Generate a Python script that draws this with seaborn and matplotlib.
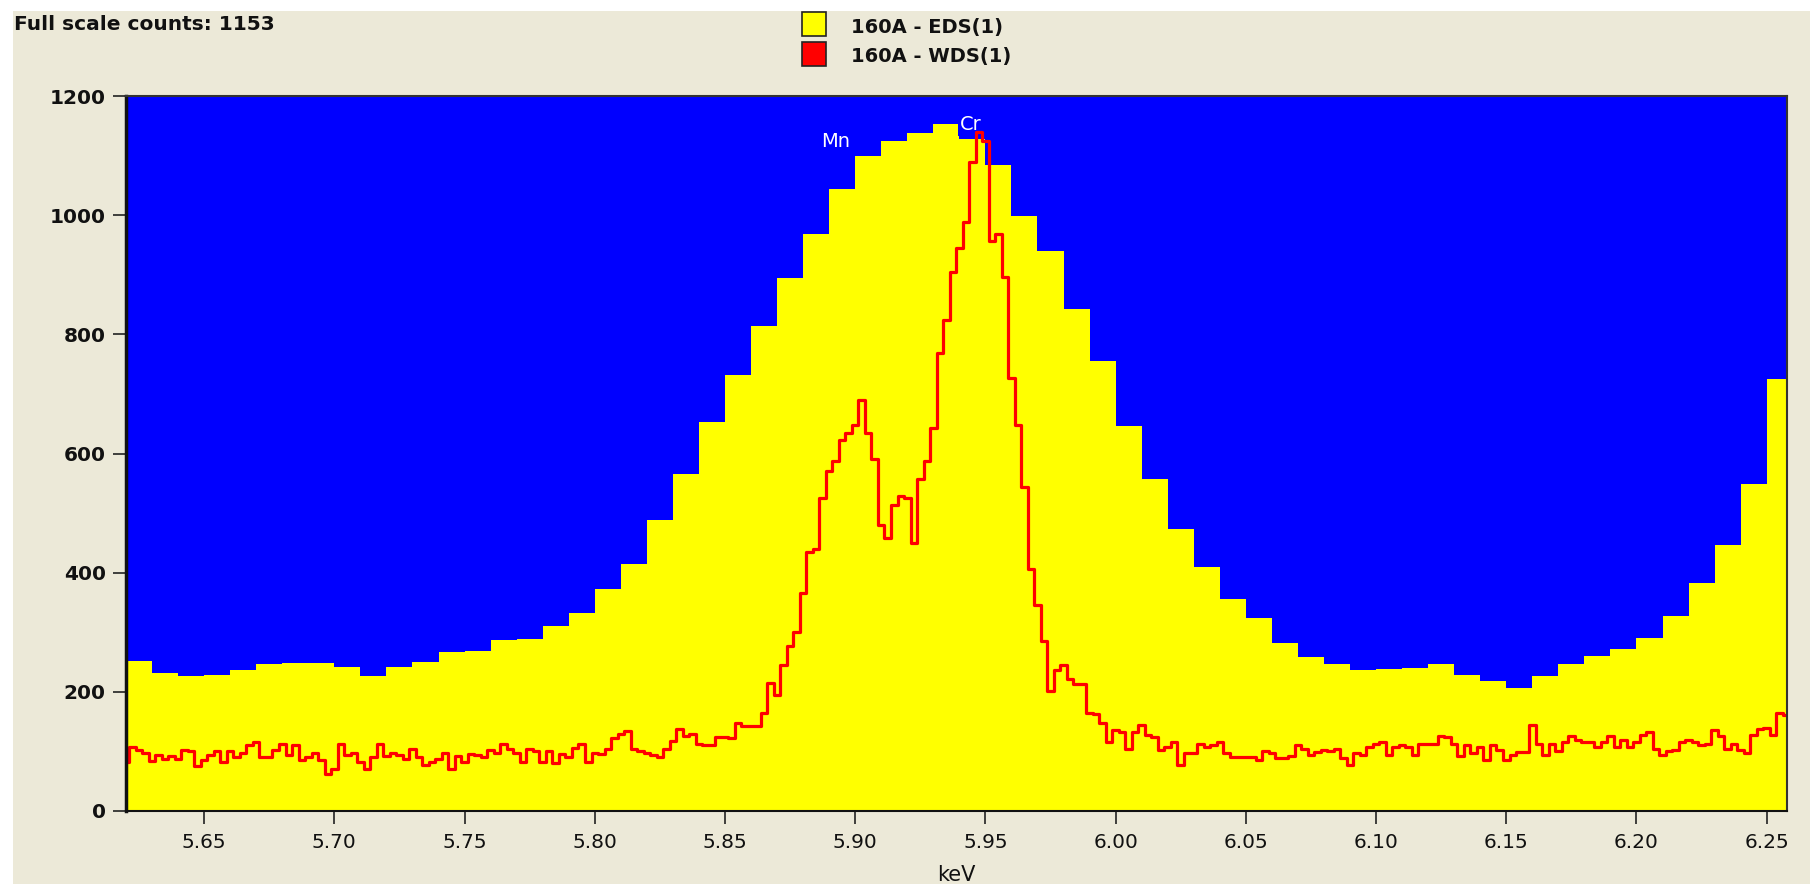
import numpy as np
import pandas as pd
import matplotlib
matplotlib.use("Agg")
import matplotlib.pyplot as plt
import seaborn as sns
from matplotlib.patches import Rectangle

# ---------------- data ----------------
eds_start = 5.62          # keV, left edge of first EDS channel
eds_bin_width = 0.01      # keV
eds_counts = [252, 231, 226, 229, 237, 246, 249, 248, 241, 226,
              241, 250, 267, 268, 287, 289, 310, 332, 372, 414,
              489, 565, 653, 731, 814, 895, 969, 1044, 1099, 1125,
              1138, 1153, 1128, 1085, 999, 940, 843, 755, 646, 558,
              473, 410, 355, 324, 282, 258, 246, 236, 239, 240,
              246, 228, 218, 206, 227, 246, 260, 272, 291, 327,
              383, 446, 549, 725]

wds_start = 5.62          # keV
wds_step = 0.0025         # keV
wds_counts = [82, 108, 102, 98, 84, 94, 88, 92, 88, 102,
              100, 76, 85, 94, 100, 82, 100, 90, 98, 110,
              116, 90, 90, 102, 112, 94, 110, 86, 90, 98,
              86, 62, 70, 112, 94, 98, 82, 70, 90, 112,
              92, 98, 94, 88, 104, 90, 78, 82, 88, 98,
              70, 92, 82, 96, 94, 90, 102, 98, 112, 104,
              98, 82, 104, 100, 82, 100, 80, 96, 90, 106,
              112, 82, 98, 96, 104, 122, 130, 134, 104, 100,
              98, 94, 90, 104, 118, 138, 126, 130, 112, 111,
              111, 124, 124, 122, 147, 142, 142, 142, 165, 215,
              195, 245, 277, 301, 366, 434, 440, 526, 571, 587,
              623, 635, 647, 689, 635, 591, 480, 458, 514, 528,
              526, 450, 557, 587, 643, 768, 824, 904, 945, 989,
              1090, 1139, 1125, 957, 969, 896, 727, 647, 543, 406,
              346, 285, 201, 237, 245, 222, 213, 213, 165, 163,
              148, 116, 136, 132, 104, 132, 144, 128, 124, 102,
              108, 115, 78, 97, 97, 113, 107, 110, 116, 97,
              91, 90, 91, 91, 85, 101, 97, 89, 89, 93,
              110, 104, 94, 99, 102, 100, 104, 89, 77, 97,
              94, 108, 112, 116, 94, 107, 110, 107, 94, 112,
              112, 112, 126, 124, 112, 93, 110, 97, 107, 86,
              110, 102, 86, 94, 99, 99, 144, 112, 94, 112,
              100, 116, 126, 120, 116, 115, 108, 115, 126, 107,
              120, 107, 115, 128, 132, 104, 94, 100, 102, 116,
              120, 115, 110, 112, 136, 126, 104, 112, 102, 97,
              128, 138, 140, 128, 165, 161]

x_ticks = [5.65, 5.70, 5.75, 5.80, 5.85, 5.90, 5.95, 6.00, 6.05, 6.10, 6.15, 6.20, 6.25]
y_ticks = [0, 200, 400, 600, 800, 1000, 1200]
series_labels = ["160A - EDS(1)", "160A - WDS(1)"]
peak_labels = ["Mn", "Cr"]
peak_kev = [5.8926, 5.9444]
peak_counts = [1124, 1153]
full_scale_counts = 1153

# ---------------- style ----------------
sns.set_theme(style="white")
plt.rcParams['font.family'] = ['DejaVu Sans']

BEIGE = '#ECE9D8'
BLUE = '#0000FF'
YELLOW = '#FFFF00'
RED = '#FF0000'

W, H = 1810, 884
fig = plt.figure(figsize=(W / 100, H / 100), dpi=100, facecolor='white')
fig.patches.append(Rectangle((13 / W, 0), 1, 1 - 11 / H, transform=fig.transFigure,
                             facecolor=BEIGE, edgecolor='none', zorder=-10))

ax = fig.add_axes([126 / W, 1 - 811 / H, (1787 - 126) / W, (811 - 96) / H])
ax.set_facecolor(BLUE)

edges = [round(eds_start + eds_bin_width * i, 4) for i in range(len(eds_counts) + 1)]
eds_df = pd.DataFrame({
    'kev': [(edges[i] + edges[i + 1]) / 2 for i in range(len(eds_counts))],
    'counts': eds_counts,
})
sns.histplot(data=eds_df, x='kev', weights='counts', bins=edges, element='step', fill=True,
             color=YELLOW, alpha=1, linewidth=0, ax=ax)

wds_df = pd.DataFrame({
    'kev': [round(wds_start + wds_step * i, 5) for i in range(len(wds_counts))],
    'counts': wds_counts,
})
sns.lineplot(data=wds_df, x='kev', y='counts', drawstyle='steps-mid', color=RED,
             linewidth=2.3, estimator=None, ax=ax, zorder=5)

# peak labels
ax.text(peak_kev[0], peak_counts[0], peak_labels[0], color='white', fontsize=14,
        ha='center', va='center', zorder=4)
ax.text(peak_kev[1], peak_counts[1], peak_labels[1], color='white', fontsize=14,
        ha='center', va='center', zorder=4,
        bbox=dict(facecolor=BLUE, edgecolor='none', pad=1.5))

ax.set_xlim(5.62, 6.2578)
ax.set_ylim(0, 1200)
ax.set_xticks(x_ticks)
ax.set_xticklabels([f"{t:.2f}" for t in x_ticks], fontsize=14.5)
ax.set_yticks(y_ticks)
ax.set_yticklabels([str(t) for t in y_ticks], fontsize=14.5, fontweight='bold')
ax.tick_params(axis='both', which='major', length=9.5, width=1.2, color='#222222',
               labelcolor='#111111', direction='out', bottom=True, left=True)
ax.tick_params(axis='x', pad=6)
ax.tick_params(axis='y', pad=5)
ax.set_xlabel('keV', fontsize=15, color='#111111', labelpad=10)
ax.set_ylabel('')

for side, lw in [('left', 2.5), ('bottom', 1.5), ('top', 1.5), ('right', 1.5)]:
    ax.spines[side].set_visible(True)
    ax.spines[side].set_color('#111111' if side in ('left', 'bottom') else '#333333')
    ax.spines[side].set_linewidth(lw)
    ax.spines[side].set_zorder(10)

# header text
fig.text(14 / W, 1 - 30 / H, f"Full scale counts: {full_scale_counts}", fontsize=14.5,
         fontweight='bold', ha='left', va='baseline', color='#111111')

# legend (manual)
for (y0, col, lab, base) in [(12, YELLOW, series_labels[0], 33), (42, RED, series_labels[1], 62)]:
    fig.patches.append(Rectangle((802 / W, 1 - (y0 + 24) / H), 24 / W, 24 / H,
                                 transform=fig.transFigure, facecolor=col,
                                 edgecolor='#222222', linewidth=1.2, zorder=5))
    fig.text(851 / W, 1 - base / H, lab, fontsize=14, fontweight='bold',
             ha='left', va='baseline', color='#111111')

fig.savefig('out.png', dpi=100, facecolor=fig.get_facecolor())
